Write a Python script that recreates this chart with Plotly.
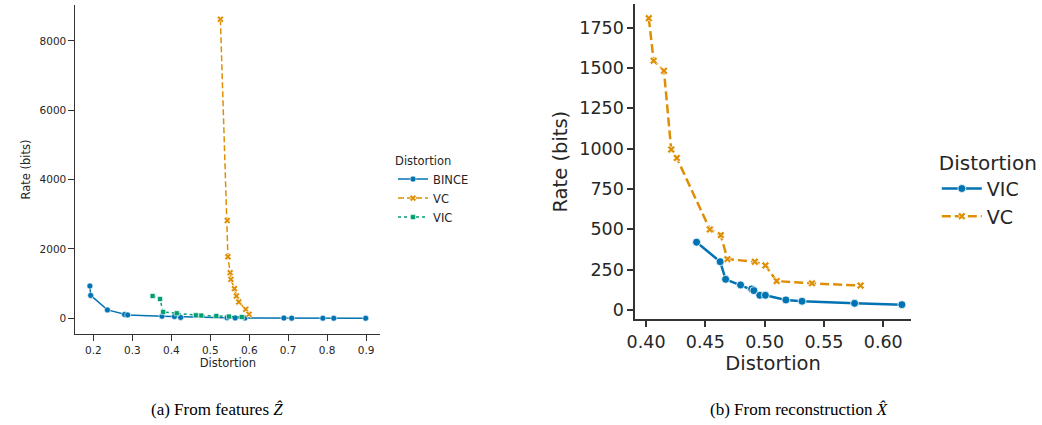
import plotly.graph_objects as go

# ---- Data: panel (a) From features Z ----
bince_x = [0.191, 0.193, 0.236, 0.280, 0.288, 0.376, 0.408, 0.424, 0.543, 0.564, 0.589, 0.689, 0.709, 0.789, 0.817, 0.899]
bince_y = [930, 660, 240, 110, 95, 58, 50, 25, 12, 10, 8, 5, 4, 3, 2, 1]

vc_a_x = [0.526, 0.5435, 0.5453, 0.551, 0.553, 0.562, 0.567, 0.573, 0.591, 0.5995]
vc_a_y = [8625, 2820, 1775, 1315, 1122, 854, 642, 469, 259, 115]

vic_a_x = [0.352, 0.371, 0.379, 0.414, 0.463, 0.477, 0.5155, 0.548, 0.581]
vic_a_y = [642, 555, 181, 144, 86, 77, 66, 49, 37]

# ---- Data: panel (b) From reconstruction X ----
vic_b_x = [0.4426, 0.4625, 0.4671, 0.4797, 0.4890, 0.4909, 0.4959, 0.5006, 0.5179, 0.5315, 0.5758, 0.6157]
vic_b_y = [420, 299, 190, 155, 130, 120, 91, 91, 62, 54, 41, 33]

vc_b_x = [0.4023, 0.4064, 0.4151, 0.4212, 0.4259, 0.4538, 0.4630, 0.4686, 0.4917, 0.5006, 0.5101, 0.5399, 0.5809]
vc_b_y = [1808, 1544, 1482, 994, 942, 499, 464, 315, 299, 276, 179, 165, 151]

left_xticks = [0.2, 0.3, 0.4, 0.5, 0.6, 0.7, 0.8, 0.9]
left_yticks = [0, 2000, 4000, 6000, 8000]
right_xticks = [0.40, 0.45, 0.50, 0.55, 0.60]
right_yticks = [0, 250, 500, 750, 1000, 1250, 1500, 1750]

BLUE = "#0173b2"
ORANGE = "#de8f05"
GREEN = "#029e73"
AX = "#333333"
FONT = "DejaVu Sans"

W, H = 1042, 425
fig = go.Figure()

# panel (a)
fig.add_trace(go.Scatter(x=bince_x, y=bince_y, mode="lines+markers", name="BINCE",
                         line=dict(color=BLUE, width=1.5, dash="solid"),
                         marker=dict(symbol="circle", size=6, color=BLUE, line=dict(color="white", width=0.6)),
                         xaxis="x", yaxis="y", legend="legend"))
fig.add_trace(go.Scatter(x=vc_a_x, y=vc_a_y, mode="lines+markers", name="VC",
                         line=dict(color=ORANGE, width=1.5, dash="6px,3px"),
                         marker=dict(symbol="x", size=6, color=ORANGE, line=dict(color="white", width=0.6)),
                         xaxis="x", yaxis="y", legend="legend"))
fig.add_trace(go.Scatter(x=vic_a_x, y=vic_a_y, mode="lines+markers", name="VIC",
                         line=dict(color=GREEN, width=1.5, dash="dot"),
                         marker=dict(symbol="square", size=5, color=GREEN, line=dict(color="white", width=0.6)),
                         xaxis="x", yaxis="y", legend="legend"))

# panel (b)
fig.add_trace(go.Scatter(x=vic_b_x, y=vic_b_y, mode="lines+markers", name="VIC",
                         line=dict(color=BLUE, width=2.5, dash="solid"),
                         marker=dict(symbol="circle", size=8, color=BLUE, line=dict(color="white", width=0.8)),
                         xaxis="x2", yaxis="y2", legend="legend2"))
fig.add_trace(go.Scatter(x=vc_b_x, y=vc_b_y, mode="lines+markers", name="VC",
                         line=dict(color=ORANGE, width=2.5, dash="9px,4px"),
                         marker=dict(symbol="x", size=7, color=ORANGE, line=dict(color="white", width=0.8)),
                         xaxis="x2", yaxis="y2", legend="legend2"))

def px_x(p):
    return p / W

def px_y(p):
    return 1 - p / H

axis_common = dict(showgrid=False, zeroline=False, showline=True, linecolor=AX,
                   ticks="outside", tickcolor=AX, ticklen=6, mirror=False)

fig.update_layout(
    width=W, height=H,
    margin=dict(l=0, r=0, t=0, b=0),
    plot_bgcolor="white", paper_bgcolor="white",
    font=dict(family=FONT, color="#262626"),
    xaxis=dict(domain=[px_x(68), px_x(375)], range=[0.154, 0.936], anchor="y",
               tickvals=left_xticks, ticktext=[f"{v:.1f}" for v in left_xticks],
               tickfont=dict(size=10.5), linewidth=1.2, tickwidth=1.2,
               title=dict(text="Distortion", font=dict(size=11.5), standoff=4), **axis_common),
    yaxis=dict(domain=[px_y(335), px_y(5)], range=[-460, 9036], anchor="x",
               tickvals=left_yticks, ticktext=[str(v) for v in left_yticks],
               tickfont=dict(size=10.5), linewidth=1.2, tickwidth=1.2,
               title=dict(text="Rate (bits)", font=dict(size=11.5), standoff=6), **axis_common),
    xaxis2=dict(domain=[px_x(632), px_x(910)], range=[0.3908, 0.6234], anchor="y2",
                tickvals=right_xticks, ticktext=[f"{v:.2f}" for v in right_xticks],
                tickfont=dict(size=17.5), linewidth=1.6, tickwidth=1.6,
                title=dict(text="Distortion", font=dict(size=19.5), standoff=2), **axis_common),
    yaxis2=dict(domain=[px_y(320), px_y(4)], range=[-57.5, 1896], anchor="x2",
                tickvals=right_yticks, ticktext=[str(v) for v in right_yticks],
                tickfont=dict(size=17.5), linewidth=1.6, tickwidth=1.6,
                title=dict(text="Rate (bits)", font=dict(size=19.5), standoff=6), **axis_common),
    legend=dict(x=px_x(388), y=px_y(150), xanchor="left", yanchor="top",
                title=dict(text="Distortion", font=dict(size=11.5)),
                font=dict(size=11.5), bgcolor="rgba(0,0,0,0)", itemwidth=30,
                tracegroupgap=0),
    legend2=dict(x=px_x(936), y=px_y(144), xanchor="left", yanchor="top",
                 title=dict(text="Distortion", font=dict(size=20)),
                 font=dict(size=19), bgcolor="rgba(0,0,0,0)", itemwidth=40,
                 tracegroupgap=0),
    showlegend=True,
)

fig.add_annotation(text="(a) From features <i>Ẑ</i>", x=px_x(211), y=px_y(410),
                   xref="paper", yref="paper", showarrow=False, xanchor="center", yanchor="middle",
                   font=dict(family="Liberation Serif", size=17, color="black"))
fig.add_annotation(text="(b) From reconstruction <i>X̂</i>", x=px_x(797), y=px_y(410),
                   xref="paper", yref="paper", showarrow=False, xanchor="center", yanchor="middle",
                   font=dict(family="Liberation Serif", size=17, color="black"))

fig.write_html("out.html", config={"displayModeBar": False},
               post_script="document.body.style.margin='0';document.body.style.overflow='hidden';")
